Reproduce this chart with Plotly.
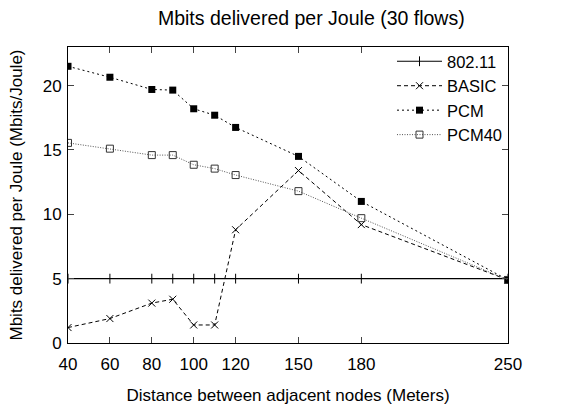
import plotly.graph_objects as go

x = [40, 60, 80, 90, 100, 110, 120, 150, 180, 250]
s80211 = [5.0, 5.0, 5.0, 5.0, 5.0, 5.0, 5.0, 5.0, 5.0, 5.0]
basic = [1.2, 1.9, 3.1, 3.4, 1.4, 1.4, 8.8, 13.4, 9.2, 4.9]
pcm = [21.5, 20.65, 19.7, 19.65, 18.2, 17.7, 16.75, 14.5, 11.0, 4.9]
pcm40 = [15.55, 15.1, 14.6, 14.6, 13.85, 13.55, 13.05, 11.8, 9.7, 4.9]
xticks = [40, 60, 80, 100, 120, 150, 180, 250]
yticks = [0, 5, 10, 15, 20]

F = "Liberation Sans, Arial, sans-serif"
fig = go.Figure()
fig.add_trace(go.Scatter(x=x, y=s80211, name="802.11", mode="lines+markers",
                         line=dict(color="black", width=1.2),
                         marker=dict(symbol="line-ns", size=7, line=dict(color="black", width=1))))
fig.add_trace(go.Scatter(x=x, y=basic, name="BASIC", mode="lines+markers",
                         line=dict(color="black", width=1, dash="4px,3px"),
                         marker=dict(symbol="x-thin", size=7, line=dict(color="black", width=1))))
fig.add_trace(go.Scatter(x=x, y=pcm, name="PCM", mode="lines+markers",
                         line=dict(color="black", width=1, dash="2px,3px"),
                         marker=dict(symbol="square", size=7, color="black")))
fig.add_trace(go.Scatter(x=x, y=pcm40, name="PCM40", mode="lines+markers",
                         line=dict(color="#555555", width=1, dash="1px,1.5px"),
                         marker=dict(symbol="square-open", size=7, color="#333333", line=dict(width=1))))

fig.update_layout(
    width=575, height=408,
    margin=dict(l=68, r=67, t=47, b=65),
    paper_bgcolor="white", plot_bgcolor="white",
    font=dict(family=F, size=17, color="black"),
    title=dict(text="Mbits delivered per Joule (30 flows)", x=0.553, xanchor="center",
               xref="paper", y=0.955, yanchor="middle", font=dict(size=19.5)),
    showlegend=True,
    legend=dict(x=1.0, y=1.01, xanchor="right", yanchor="top", bgcolor="rgba(0,0,0,0)",
                font=dict(size=16.5), tracegroupgap=0, itemwidth=45),
)
fig.update_xaxes(range=[40, 250], tickvals=xticks, ticks="inside", ticklen=6,
                 showline=True, linecolor="black", linewidth=1, mirror="allticks",
                 showgrid=False, zeroline=False, ticklabelstandoff=6, automargin=False,
                 title=dict(text="Distance between adjacent nodes (Meters)", standoff=15,
                            font=dict(size=17)))
fig.update_yaxes(range=[0, 23], tickvals=yticks, ticks="inside", ticklen=6,
                 showline=True, linecolor="black", linewidth=1, mirror="allticks",
                 showgrid=False, zeroline=False, ticklabelstandoff=2, automargin=False,
                 title=dict(text="Mbits delivered per Joule (Mbits/Joule)", standoff=15,
                            font=dict(size=17)))
fig.write_html("out.html")
